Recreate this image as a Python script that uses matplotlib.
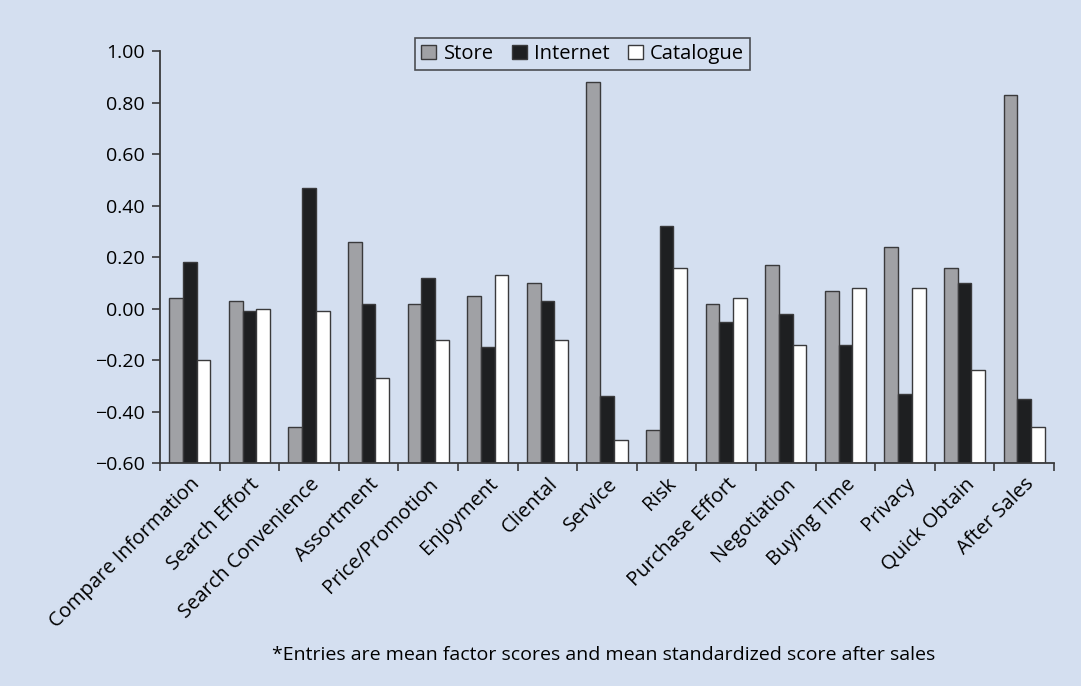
import matplotlib
matplotlib.use("Agg")
import matplotlib.pyplot as plt
import numpy as np
from matplotlib.ticker import FuncFormatter

categories = ["Compare Information", "Search Effort", "Search Convenience", "Assortment",
              "Price/Promotion", "Enjoyment", "Cliental", "Service", "Risk",
              "Purchase Effort", "Negotiation", "Buying Time", "Privacy",
              "Quick Obtain", "After Sales"]
store = [0.04, 0.03, -0.46, 0.26, 0.02, 0.05, 0.10, 0.88, -0.47, 0.02, 0.17, 0.07, 0.24, 0.16, 0.83]
internet = [0.18, -0.01, 0.47, 0.02, 0.12, -0.15, 0.03, -0.34, 0.32, -0.05, -0.02, -0.14, -0.33, 0.10, -0.35]
catalogue = [-0.20, 0.00, -0.01, -0.27, -0.12, 0.13, -0.12, -0.51, 0.16, 0.04, -0.14, 0.08, 0.08, -0.24, -0.46]
series_names = ["Store", "Internet", "Catalogue"]
yticks = [-0.6, -0.4, -0.2, 0.0, 0.2, 0.4, 0.6, 0.8, 1.0]
footnote = "*Entries are mean factor scores and mean standardized score after sales"

bg = "#d4dff0"
plt.rcParams['font.family'] = ["Open Sans", "DejaVu Sans"]

fig = plt.figure(figsize=(10.81, 6.86), dpi=100, facecolor=bg)
ax = fig.add_axes([0.148, 0.325, 0.827, 0.60])
ax.set_facecolor(bg)

x = np.arange(len(categories))
w = 0.23
base = -0.6
colors = ["#a0a1a5", "#1e1f21", "#ffffff"]
for i, (vals, name, c) in enumerate(zip([store, internet, catalogue], series_names, colors)):
    v = np.array(vals)
    ax.bar(x + (i - 1) * w, v - base, bottom=base, width=w, color=c,
           edgecolor="#3a3a3c", linewidth=1.0, label=name)

ax.set_xlim(-0.5, len(categories) - 0.5)
ax.set_ylim(-0.6, 1.0)
ax.set_yticks(yticks)
ax.yaxis.set_major_formatter(FuncFormatter(lambda v, p: f"{v:.2f}".replace("-", "\u2212")))
ax.set_xticks(np.arange(len(categories) + 1) - 0.5, minor=False)
ax.set_xticklabels([])
ax.set_xticks(x, minor=True)
ax.set_xticklabels(categories, minor=True, rotation=45, ha="right", rotation_mode="anchor", fontsize=14.5)
ax.tick_params(axis="x", which="minor", length=0, pad=8)
ax.tick_params(axis="x", which="major", length=6, width=1.2, color="#3a3a3c")
ax.tick_params(axis="y", length=6, width=1.2, color="#3a3a3c", labelsize=14, pad=5)
for s in ["top", "right"]:
    ax.spines[s].set_visible(False)
for s in ["left", "bottom"]:
    ax.spines[s].set_color("#3a3a3c")
    ax.spines[s].set_linewidth(1.3)

leg = ax.legend(loc="upper center", bbox_to_anchor=(0.4726, 1.057), ncol=3, frameon=True,
                fancybox=False, edgecolor="#2a2a2c", facecolor=bg, fontsize=14.5,
                handlelength=0.75, handleheight=0.75, handletextpad=0.35, columnspacing=0.9,
                borderpad=0.3)
leg.get_frame().set_linewidth(1.2)

fig.text(0.558, 0.045, footnote, ha="center", va="center", fontsize=14)

fig.savefig("out.png", dpi=100, facecolor=bg)
